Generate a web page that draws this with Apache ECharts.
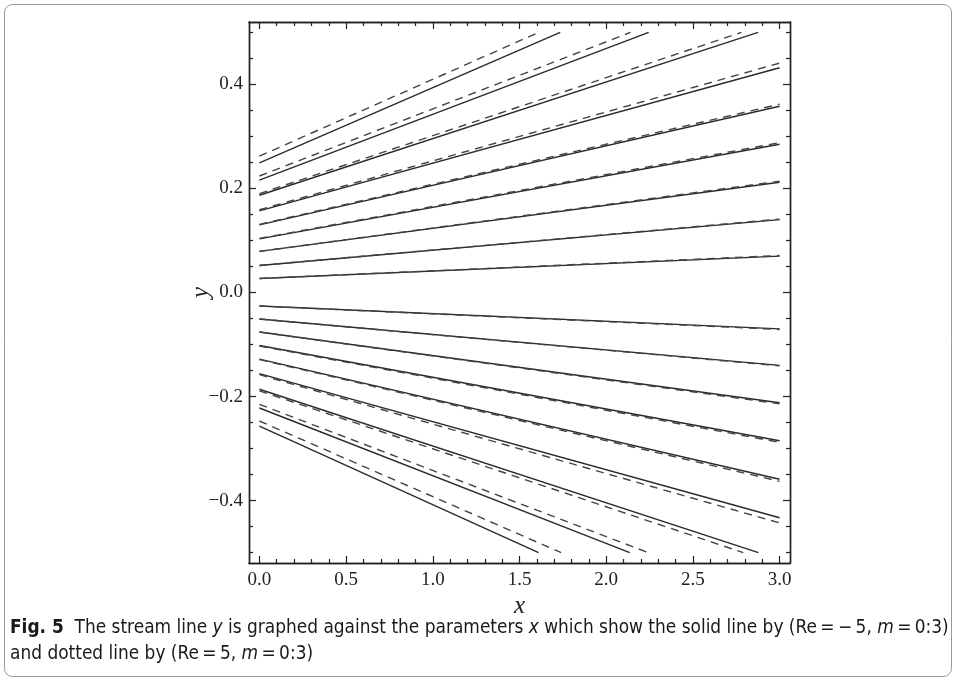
<!DOCTYPE html>
<html>
<head>
<meta charset="utf-8">
<script src="https://cdn.jsdelivr.net/npm/echarts@6/dist/echarts.min.js"></script>
<style>
html,body{margin:0;padding:0;background:#fff;}
#chart{width:957px;height:682px;}
</style>
</head>
<body>
<div id="chart"></div>
<script>
// ---- data ----
// each stream line: [start point, end point]
const solidPos = [
  [[0, 0.027], [3, 0.070]],
  [[0, 0.052], [3, 0.140]],
  [[0, 0.079], [3, 0.212]],
  [[0, 0.103], [3, 0.285]],
  [[0, 0.130], [3, 0.358]],
  [[0, 0.157], [3, 0.432]],
  [[0, 0.187], [2.876, 0.5]],
  [[0, 0.216], [2.245, 0.5]],
  [[0, 0.249], [1.735, 0.5]]
];
const dashedPos = [
  [[0, 0.027], [3, 0.071]],
  [[0, 0.052], [3, 0.141]],
  [[0, 0.079], [3, 0.214]],
  [[0, 0.104], [3, 0.288]],
  [[0, 0.131], [3, 0.362]],
  [[0, 0.159], [3, 0.441]],
  [[0, 0.190], [2.78, 0.5]],
  [[0, 0.224], [2.14, 0.5]],
  [[0, 0.262], [1.61, 0.5]]
];
const solidNeg = [
  [[0, -0.026], [3, -0.070]],
  [[0, -0.051], [3, -0.140]],
  [[0, -0.076], [3, -0.212]],
  [[0, -0.102], [3, -0.285]],
  [[0, -0.128], [3, -0.359]],
  [[0, -0.156], [3, -0.433]],
  [[0, -0.186], [2.878, -0.5]],
  [[0, -0.222], [2.136, -0.5]],
  [[0, -0.257], [1.61, -0.5]]
];
const dashedNeg = [
  [[0, -0.026], [3, -0.071]],
  [[0, -0.051], [3, -0.141]],
  [[0, -0.076], [3, -0.214]],
  [[0, -0.103], [3, -0.288]],
  [[0, -0.129], [3, -0.363]],
  [[0, -0.158], [3, -0.443]],
  [[0, -0.189], [2.79, -0.5]],
  [[0, -0.215], [2.242, -0.5]],
  [[0, -0.247], [1.74, -0.5]]
];
const xMajor = [0, 0.5, 1, 1.5, 2, 2.5, 3];
const xMinor = [0.1,0.2,0.3,0.4,0.6,0.7,0.8,0.9,1.1,1.2,1.3,1.4,1.6,1.7,1.8,1.9,2.1,2.2,2.3,2.4,2.6,2.7,2.8,2.9];
const yMajor = [-0.4, -0.2, 0, 0.2, 0.4];
const yMinor = [-0.5,-0.45,-0.35,-0.3,-0.25,-0.15,-0.1,-0.05,0.05,0.1,0.15,0.25,0.3,0.35,0.45,0.5];
const xRange = [-0.06, 3.06];
const yRange = [-0.52, 0.52];
const captionBold = 'Fig. 5';

// ---- chart ----
const chart = echarts.init(document.getElementById('chart'), null, {renderer: 'canvas'});
const serif = '"Liberation Serif", "DejaVu Serif", serif';
const fmt = v => {
  const s = Math.abs(v).toFixed(1);
  return v < -1e-9 ? '\u2212' + s : s;
};

function xAx(pos, vals, len, labels) {
  return {
    type: 'value', position: pos, min: xRange[0], max: xRange[1],
    axisLine: {show: true, onZero: false, lineStyle: {color: '#222', width: 1.4}},
    axisTick: {show: true, inside: true, length: len, customValues: vals, lineStyle: {color: '#222', width: 1.2}},
    axisLabel: labels ? {show: true, customValues: vals, formatter: fmt, color: '#222', fontFamily: serif, fontSize: 19, margin: 8} : {show: false},
    splitLine: {show: false}
  };
}
function yAx(pos, vals, len, labels) {
  return {
    type: 'value', position: pos, min: yRange[0], max: yRange[1],
    axisLine: {show: true, onZero: false, lineStyle: {color: '#222', width: 1.4}},
    axisTick: {show: true, inside: true, length: len, customValues: vals, lineStyle: {color: '#222', width: 1.2}},
    axisLabel: labels ? {show: true, customValues: vals, formatter: fmt, color: '#222', fontFamily: serif, fontSize: 19, margin: 6} : {show: false},
    splitLine: {show: false}
  };
}

const xAxes = [
  Object.assign(xAx('bottom', xMajor, 7, true), {
    name: 'x', nameLocation: 'middle', nameGap: 31, nameMoveOverlap: false,
    nameTextStyle: {fontFamily: serif, fontStyle: 'italic', fontSize: 25, color: '#222'}
  }),
  xAx('bottom', xMinor, 4, false),
  xAx('top', xMajor, 7, false),
  xAx('top', xMinor, 4, false)
];
const yAxes = [
  Object.assign(yAx('left', yMajor, 7, true), {
    name: 'y', nameLocation: 'middle', nameGap: 35, nameRotate: 90, nameMoveOverlap: false,
    nameTextStyle: {fontFamily: serif, fontStyle: 'italic', fontSize: 25, color: '#222'}
  }),
  yAx('left', yMinor, 4, false),
  yAx('right', yMajor, 7, false),
  yAx('right', yMinor, 4, false)
];

const series = [];
function addLines(lines, dashed) {
  lines.forEach(pts => {
    series.push({
      type: 'line', data: pts, showSymbol: false, symbol: 'none', silent: true,
      animation: false, clip: true,
      lineStyle: {color: dashed ? '#444' : '#2a2a2a', width: 1.4, type: dashed ? [8, 6] : 'solid'}
    });
  });
}
addLines(solidPos, false);
addLines(solidNeg, false);
addLines(dashedPos, true);
addLines(dashedNeg, true);

const sans = '"DejaVu Sans Condensed", "DejaVu Sans", sans-serif';
const capSize = 18.9;
chart.setOption({
  animation: false,
  backgroundColor: '#fff',
  grid: {left: 249, top: 22, width: 541, height: 541, containLabel: false},
  xAxis: xAxes,
  yAxis: yAxes,
  series: series,
  graphic: [
    {type: 'rect', shape: {x: 4.5, y: 4.5, width: 947, height: 672, r: 8}, style: {fill: null, stroke: '#9a9a9a', lineWidth: 1}, silent: true},
    {type: 'text', left: 10, top: 619, style: {
      text: '{b|' + captionBold + '}  The stream line {i|y} is graphed against the parameters {i|x} which show the solid line by (Re\u2009=\u2009\u2212\u20095, {i|m}\u2009=\u20090:3)',
      font: capSize + 'px ' + sans, fill: '#1a1a1a',
      rich: {b: {fontWeight: 'bold', fontSize: capSize, fontFamily: sans, fill: '#1a1a1a'}, i: {fontStyle: 'italic', fontSize: capSize, fontFamily: sans, fill: '#1a1a1a'}}
    }},
    {type: 'text', left: 10, top: 645, style: {
      text: 'and dotted line by (Re\u2009=\u20095, {i|m}\u2009=\u20090:3)',
      font: capSize + 'px ' + sans, fill: '#1a1a1a',
      rich: {i: {fontStyle: 'italic', fontSize: capSize, fontFamily: sans, fill: '#1a1a1a'}}
    }}
  ]
});
</script>
</body>
</html>
